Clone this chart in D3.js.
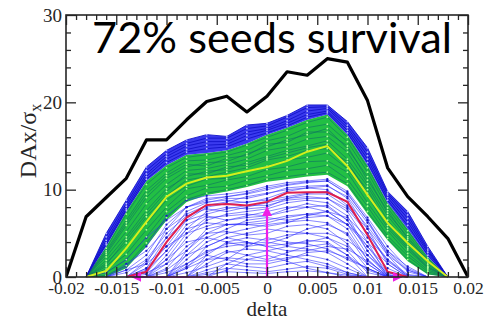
<!DOCTYPE html>
<html>
<head>
<meta charset="utf-8">
<script src="https://cdn.jsdelivr.net/npm/d3@7"></script>
<style>
  html, body { margin: 0; padding: 0; background: #fff; }
  svg { display: block; }
</style>
</head>
<body>
<svg id="chart" width="504" height="321"></svg>
<script>
const _ = null;

// Offset delta at which every trajectory is sampled
const deltaValues = [-0.020,-0.018,-0.016,-0.014,-0.012,-0.010,-0.008,-0.006,-0.004,-0.002,0,
                     0.002,0.004,0.006,0.008,0.010,0.012,0.014,0.016,0.018,0.020];

// Maximum DAx/sigma over all seeds
const envelopeMax = [0,6.9,9.1,11.3,15.7,15.7,18.0,20.1,20.7,18.9,20.7,23.5,23.1,25.0,24.6,20.2,12.5,9.2,6.9,4.4,0];

// Mean over surviving seeds
const meanSurvivor = [_,0,0.7,3.3,6.3,9.2,10.7,11.4,11.6,12.1,12.6,13.3,14.35,15.0,12.7,9.4,6.2,3.9,1.8,0,_];

// Reference (ideal) lattice
const referenceSeed = [_,_,_,0,0.6,4.0,6.8,8.25,8.35,8.2,8.6,9.65,9.7,9.7,8.6,4.8,0.6,0,_,_,_];

// Bounds of the dense core of seeds and of the outer spread
const coreBottom = [_,0,0,1.0,3.5,6.5,8.6,9.4,9.8,10.3,10.9,11.2,11.5,11.7,10.4,7.2,4.2,1.8,0.3,0,_];
const coreTop    = [_,0,3.5,7.5,11.0,12.8,14.0,14.2,14.5,15.3,16.3,17.1,18.0,18.6,16.3,12.8,8.5,5.5,2.3,0,_];
const spreadTop  = [_,0,5.0,8.8,12.6,14.5,15.7,16.3,16.1,17.4,17.6,18.5,19.7,19.7,17.8,14.8,9.8,7.5,3.5,0,_];

// Seed trajectories inside the dense core
const coreSeeds = [
  [_,0,3.3,7.2,10.6,12.5,13.7,14.0,14.3,15.1,16.0,16.8,17.7,18.3,16.0,12.5,8.3,5.3,2.2,0,_],
  [_,0,3.0,6.5,9.9,11.9,13.3,13.4,13.9,14.5,15.6,16.1,17.1,17.5,15.5,12.0,7.9,4.9,2.0,0,_],
  [_,0,2.6,5.9,9.1,11.3,12.6,13.1,13.2,14.1,14.9,15.7,16.3,17.0,14.7,11.5,7.3,4.6,1.8,0,_],
  [_,0,2.3,5.2,8.4,10.6,12.2,12.4,12.9,13.5,14.5,14.9,15.8,16.1,14.3,10.7,7.0,4.2,1.6,0,_],
  [_,0,1.9,4.6,7.6,10.1,11.5,12.1,12.3,13.1,13.8,14.5,15.0,15.6,13.5,10.4,6.5,3.8,1.4,0,_],
  [_,0,1.6,3.9,6.9,9.3,11.1,11.5,12.0,12.5,13.4,13.8,14.5,14.7,13.2,9.6,6.2,3.5,1.2,0,_],
  [_,0,1.2,3.3,6.1,8.8,10.4,11.2,11.3,12.1,12.7,13.4,13.7,14.2,12.4,9.3,5.6,3.1,1.0,0,_],
  [_,0,0.9,2.6,5.4,8.0,10.1,10.5,11.1,11.5,12.3,12.6,13.2,13.3,12.0,8.5,5.3,2.7,0.8,0,_],
  [_,0,0.5,2.0,4.6,7.5,9.3,10.2,10.4,11.1,11.6,12.2,12.4,12.8,11.2,8.1,4.7,2.4,0.6,0,_],
  [_,0,0.2,1.3,3.9,6.8,8.9,9.6,10.0,10.5,11.2,11.5,11.8,12.0,10.7,7.5,4.4,2.0,0.4,0,_],
  [_,0,2.8,6.2,9.5,11.6,12.9,12.7,13.6,13.9,15.2,15.4,16.6,16.6,15.0,11.1,7.6,4.4,1.9,0,_],
  [_,0,1.4,4.3,7.2,9.8,11.8,11.8,12.6,12.8,13.6,14.2,14.8,15.2,12.9,10.0,5.9,3.3,1.1,0,_]
];

// Seed trajectories on the upper edge of the spread
const upperSeeds = [
  [_,0,5.0,8.8,12.6,14.5,15.7,16.3,16.1,17.4,17.6,18.5,19.7,19.7,17.8,14.8,9.8,7.5,3.5,0,_],
  [_,0,4.6,8.4,12.2,14.1,15.3,15.9,15.9,17.0,17.3,18.3,19.4,19.5,17.4,14.3,9.6,7.1,3.2,0,_],
  [_,0,4.2,8.1,11.8,13.8,15.0,15.5,15.5,16.6,17.0,17.9,19.0,19.3,17.1,13.9,9.4,6.7,3.0,0,_],
  [_,0,3.9,7.8,11.5,13.5,14.6,15.1,15.2,16.2,16.8,17.6,18.6,19.0,16.8,13.5,9.1,6.3,2.8,0,_],
  [_,0,3.7,7.6,11.2,13.1,14.3,14.7,14.9,15.8,16.5,17.3,18.3,18.8,16.5,13.1,8.8,5.9,2.5,0,_]
];

// Seed trajectories below the core
const lowerSeeds = [
  [_,_,_,0,1.5,5.5,8.0,9.0,9.2,9.5,10.0,10.5,10.8,11.0,9.5,6.5,2.5,0,_,_,_],
  [_,_,_,0,1.0,4.5,7.5,8.5,9.0,9.0,9.5,10.2,10.4,10.5,9.0,5.5,1.5,0,_,_,_],
  [_,_,0,1.2,3.5,7.0,8.8,9.3,9.5,9.8,10.4,10.8,11.0,11.2,9.8,6.8,3.5,1.0,0,_,_],
  [_,_,_,_,0,2.5,5.5,7.5,8.0,7.8,8.0,9.0,9.2,9.0,7.5,4.0,0,_,_,_,_],
  [_,_,_,_,0,1.5,4.5,6.5,7.2,7.5,7.8,8.5,8.8,8.5,7.0,3.0,0,_,_,_,_],
  [_,_,_,0,0.5,3.0,6.0,7.0,6.5,6.8,7.0,7.5,8.0,8.2,6.5,3.5,0.5,0,_,_,_],
  [_,_,_,_,_,0,3.0,5.5,6.0,6.2,6.5,7.0,7.2,7.0,5.5,2.0,0,_,_,_,_],
  [_,_,_,_,_,0,2.0,4.0,5.0,5.5,6.0,6.3,6.5,6.2,4.8,1.5,0,_,_,_,_],
  [_,_,_,_,0,1.0,3.5,5.0,5.2,4.8,5.0,5.8,6.0,5.5,3.8,1.0,0,_,_,_,_],
  [_,_,_,_,_,_,0,2.5,4.0,4.5,4.2,4.8,5.0,4.5,3.0,0.5,0,_,_,_,_],
  [_,_,_,_,_,0,1.5,3.0,3.5,3.8,4.0,3.6,4.2,4.0,2.5,0,_,_,_,_,_],
  [_,_,_,_,_,_,0,1.5,2.8,3.2,3.0,3.5,3.2,2.8,1.5,0,_,_,_,_,_],
  [_,_,_,_,_,_,_,0,1.5,2.5,3.0,2.5,2.0,1.5,0.5,0,_,_,_,_,_],
  [_,_,_,_,_,0,1.0,2.0,2.2,2.0,1.8,2.2,2.5,2.0,1.0,0,_,_,_,_,_],
  [_,_,_,_,_,_,0,0.8,1.5,1.2,1.0,1.5,1.8,1.2,0.5,0,_,_,_,_,_],
  [_,_,_,_,0,2.0,4.0,4.5,4.0,3.5,3.8,4.5,5.5,6.0,5.0,2.0,0,_,_,_,_],
  [_,_,_,0,1.0,3.5,5.0,5.8,6.5,7.0,7.5,8.0,8.0,7.5,6.0,4.0,1.5,0,_,_,_],
  [_,_,_,_,_,_,_,0,0.8,2.0,2.5,1.8,1.0,0.5,0,_,_,_,_,_,_],
  [_,_,_,_,_,_,0,0.5,1.0,0.8,0.6,0.9,1.2,1.0,0.3,0,_,_,_,_,_],
  [_,_,0,0.8,2.5,6.0,8.0,8.6,8.8,8.5,9.0,9.8,10.2,10.0,8.2,5.0,2.0,0.3,0,_,_],
  [_,_,_,0,0.3,2.0,5.0,6.8,7.0,7.2,7.0,7.8,8.4,8.0,6.5,3.0,0.3,0,_,_,_],
  [_,_,_,_,_,0,2.5,4.5,5.5,6.5,6.8,6.5,6.8,7.0,6.0,3.5,1.0,0,_,_,_],
  [_,_,_,_,_,_,0,2.0,3.0,2.5,2.0,2.8,3.5,3.8,2.5,0.8,0,_,_,_,_],
  [_,_,0,0.5,2.0,5.0,7.0,7.8,7.5,8.0,8.5,9.0,9.5,9.5,8.0,5.5,2.5,0.8,0,_,_],
  [_,0,0.5,2.0,4.5,6.5,8.0,8.8,9.2,9.6,10.2,10.6,10.9,11.0,9.6,6.5,3.0,0.8,0,_,_],
  [_,_,0,1.5,3.0,5.5,7.2,8.2,8.6,9.2,9.6,10.0,10.2,10.4,9.2,6.2,3.0,1.2,0,_,_],
  [_,_,0,0.8,1.5,3.5,6.5,8.0,8.4,8.6,8.8,9.2,9.6,9.8,8.6,5.8,2.8,0.6,0,_,_],
  [_,_,_,0,0.5,1.5,3.0,5.0,6.0,6.0,5.8,6.2,7.0,7.5,6.8,4.5,2.0,0,_,_,_],
  [_,_,_,_,0,0.8,2.5,3.5,4.5,5.0,5.5,5.2,5.0,5.0,4.2,2.5,0.5,0,_,_,_],
  [_,_,_,_,_,0,0.5,1.2,2.0,3.5,4.5,4.0,3.8,3.2,2.0,1.0,0,_,_,_,_],
  [_,_,_,_,0,0.5,1.5,2.8,3.8,4.0,3.5,3.0,3.0,3.5,3.2,1.8,0.2,0,_,_,_],
  [_,_,_,0,1.8,4.5,6.5,7.2,7.8,8.2,8.2,8.8,9.0,9.0,7.8,5.0,1.8,0.2,0,_,_],
  [_,_,_,_,_,0,1.2,2.5,2.0,1.5,1.5,2.0,2.8,3.0,2.2,1.0,0,_,_,_,_],
  [_,_,_,_,_,_,0,0.3,0.6,0.5,0.4,0.6,0.7,0.5,0.2,0,_,_,_,_,_],
  [_,_,_,0,0.8,3.0,5.5,6.2,6.0,6.0,6.2,6.8,7.2,7.5,6.0,2.5,0.2,0,_,_,_],
  [_,_,_,_,_,0,1.0,3.5,4.5,4.0,3.5,3.8,4.0,4.5,3.5,1.5,0,_,_,_,_]
];

// Survival window along delta and peak height at delta = 0
const windowEdges = [-0.0134, 0.0134];
const peakAtZero = 8.0;

// Axis ticks
const xMajor = [-0.02,-0.015,-0.01,-0.005,0,0.005,0.01,0.015,0.02];
const xTickLabels = ["-0.02","-0.015","-0.01","-0.005","0","0.005","0.01","0.015","0.02"];
const xMinor = [-0.019,-0.018,-0.017,-0.016,-0.014,-0.013,-0.012,-0.011,-0.009,-0.008,-0.007,-0.006,
                -0.004,-0.003,-0.002,-0.001,0.001,0.002,0.003,0.004,0.006,0.007,0.008,0.009,
                0.011,0.012,0.013,0.014,0.016,0.017,0.018,0.019];
const yMajor = [0,10,20,30];
const yTickLabels = ["0","10","20","30"];
const yMinor = [2,4,6,8,12,14,16,18,22,24,26,28];

const titleText = "72% seeds survival";
const xTitle = "delta";

// ---------- drawing ----------
const svg = d3.select("#chart");
const plotL = 66, plotR = 468, plotT = 15, plotB = 277;

const x = d3.scaleLinear().domain([-0.02, 0.02]).range([plotL, plotR]);
const y = d3.scaleLinear().domain([0, 30]).range([plotB, plotT]);

const defs = svg.append("defs");
defs.append("clipPath").attr("id", "plotClip")
  .append("rect").attr("x", plotL).attr("y", plotT - 2).attr("width", plotR - plotL).attr("height", plotB - plotT + 4);
defs.append("marker").attr("id", "arrowHead")
  .attr("viewBox", "0 0 10 10").attr("refX", 9).attr("refY", 5)
  .attr("markerWidth", 4.5).attr("markerHeight", 4.5).attr("markerUnits", "strokeWidth")
  .attr("orient", "auto-start-reverse")
  .append("path").attr("d", "M0,0 L10,5 L0,10 z").attr("fill", "#f01ee6");

const pts = arr => deltaValues.map((d, i) => [d, arr[i]]);
const line = d3.line().defined(p => p[1] != null).x(p => x(p[0])).y(p => y(p[1]));
const bandArea = (lo, hi) => d3.area()
  .defined((d, i) => lo[i] != null && hi[i] != null)
  .x(d => x(d)).y0((d, i) => y(lo[i])).y1((d, i) => y(hi[i]));

const plot = svg.append("g").attr("clip-path", "url(#plotClip)");

// dense core and upper spread as filled bands
plot.append("path").attr("d", bandArea(coreBottom, coreTop)(deltaValues))
  .attr("fill", "#22bf44");
plot.append("path").attr("d", bandArea(coreTop, spreadTop)(deltaValues))
  .attr("fill", "#3a3aee");

// lower trajectories
plot.append("g").selectAll("path").data(lowerSeeds).join("path")
  .attr("d", s => line(pts(s)))
  .attr("fill", "none").attr("stroke", "#2a2aff").attr("stroke-width", 0.75).attr("stroke-opacity", 0.75);

// core trajectories
plot.append("g").selectAll("path").data(coreSeeds).join("path")
  .attr("d", s => line(pts(s)))
  .attr("fill", "none").attr("stroke", "#0d6f63").attr("stroke-width", 0.7).attr("stroke-opacity", 0.85);

// upper-edge trajectories
plot.append("g").selectAll("path").data(upperSeeds).join("path")
  .attr("d", s => line(pts(s)))
  .attr("fill", "none").attr("stroke", "#1212c8").attr("stroke-width", 0.9);

// sample markers
function markers(series, fill, r) {
  const dots = [];
  series.forEach(s => s.forEach((v, i) => { if (v != null && v > 0) dots.push([deltaValues[i], v]); }));
  plot.append("g").selectAll("circle").data(dots).join("circle")
    .attr("cx", d => x(d[0])).attr("cy", d => y(d[1])).attr("r", r).attr("fill", fill);
}
markers(lowerSeeds, "#1717c8", 1.15);
markers(upperSeeds, "#b9bcff", 0.9);
markers(coreSeeds, "#b6ff9c", 0.9);

// mean, reference and envelope curves
plot.append("path").attr("d", line(pts(meanSurvivor)))
  .attr("fill", "none").attr("stroke", "#d4ef1c").attr("stroke-width", 2);
plot.append("path").attr("d", line(pts(referenceSeed)))
  .attr("fill", "none").attr("stroke", "#e01f4f").attr("stroke-width", 2);
plot.append("path").attr("d", line(pts(envelopeMax)))
  .attr("fill", "none").attr("stroke", "#000").attr("stroke-width", 3.2).attr("stroke-linejoin", "round");

// survival window arrows
svg.append("line")
  .attr("x1", x(0)).attr("x2", x(windowEdges[0])).attr("y1", y(0)).attr("y2", y(0))
  .attr("stroke", "#f01ee6").attr("stroke-width", 2.2).attr("marker-end", "url(#arrowHead)");
svg.append("line")
  .attr("x1", x(0)).attr("x2", x(windowEdges[1])).attr("y1", y(0)).attr("y2", y(0))
  .attr("stroke", "#f01ee6").attr("stroke-width", 2.2).attr("marker-end", "url(#arrowHead)");
svg.append("line")
  .attr("x1", x(0)).attr("x2", x(0)).attr("y1", y(0)).attr("y2", y(peakAtZero))
  .attr("stroke", "#f01ee6").attr("stroke-width", 2.2).attr("marker-end", "url(#arrowHead)");

// axes
const ink = "#262626";
const serif = "'Liberation Serif', 'DejaVu Serif', serif";
function styleAxis(g, size) {
  g.select("path.domain").remove();
  g.selectAll("line").attr("stroke", ink).attr("stroke-width", 1.3);
  g.selectAll("text").attr("font-family", serif).attr("font-size", size).attr("fill", ink);
}
svg.append("g").attr("transform", `translate(0,${plotB})`)
  .call(d3.axisBottom(x).tickValues(xMajor).tickSizeInner(-10).tickSizeOuter(0).tickPadding(5)
    .tickFormat((d, i) => xTickLabels[i]))
  .call(g => styleAxis(g, 17.5));
svg.append("g").attr("transform", `translate(0,${plotB})`)
  .call(d3.axisBottom(x).tickValues(xMinor).tickSizeInner(-5).tickSizeOuter(0).tickFormat(""))
  .call(g => styleAxis(g, 18));
svg.append("g").attr("transform", `translate(0,${plotT})`)
  .call(d3.axisTop(x).tickValues(xMajor).tickSizeInner(-10).tickSizeOuter(0).tickFormat(""))
  .call(g => styleAxis(g, 18));
svg.append("g").attr("transform", `translate(0,${plotT})`)
  .call(d3.axisTop(x).tickValues(xMinor).tickSizeInner(-5).tickSizeOuter(0).tickFormat(""))
  .call(g => styleAxis(g, 18));
svg.append("g").attr("transform", `translate(${plotL},0)`)
  .call(d3.axisLeft(y).tickValues(yMajor).tickSizeInner(-10).tickSizeOuter(0).tickPadding(4)
    .tickFormat((d, i) => yTickLabels[i]))
  .call(g => styleAxis(g, 19));
svg.append("g").attr("transform", `translate(${plotL},0)`)
  .call(d3.axisLeft(y).tickValues(yMinor).tickSizeInner(-5).tickSizeOuter(0).tickFormat(""))
  .call(g => styleAxis(g, 19));
svg.append("g").attr("transform", `translate(${plotR},0)`)
  .call(d3.axisRight(y).tickValues(yMajor).tickSizeInner(-10).tickSizeOuter(0).tickFormat(""))
  .call(g => styleAxis(g, 19));
svg.append("g").attr("transform", `translate(${plotR},0)`)
  .call(d3.axisRight(y).tickValues(yMinor).tickSizeInner(-5).tickSizeOuter(0).tickFormat(""))
  .call(g => styleAxis(g, 19));

svg.append("rect").attr("x", plotL).attr("y", plotT).attr("width", plotR - plotL).attr("height", plotB - plotT)
  .attr("fill", "none").attr("stroke", ink).attr("stroke-width", 1.6);

// axis titles
const yTitle = svg.append("text")
  .attr("transform", "translate(36,141) rotate(-90)")
  .attr("text-anchor", "middle")
  .attr("font-family", serif)
  .attr("font-size", 24).attr("fill", ink);
yTitle.append("tspan").text("DAx/σ");
yTitle.append("tspan").attr("font-size", 16).attr("dy", 5).text("x");

svg.append("text").attr("x", x(0)).attr("y", 316).attr("text-anchor", "middle")
  .attr("font-family", serif)
  .attr("font-size", 21).attr("fill", ink).text(xTitle);

// headline
svg.append("text").attr("x", 92).attr("y", 53)
  .attr("font-family", "Lato, 'Open Sans', sans-serif").attr("font-size", 42)
  .attr("textLength", 360).attr("lengthAdjust", "spacingAndGlyphs")
  .attr("fill", "#000").text(titleText);
</script>
</body>
</html>
